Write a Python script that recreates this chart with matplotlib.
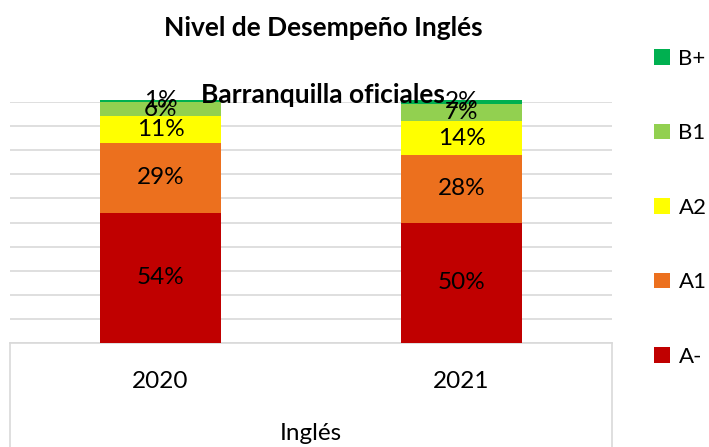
import matplotlib
matplotlib.use("Agg")
import matplotlib.pyplot as plt
from matplotlib.lines import Line2D
from matplotlib.patches import Patch
import numpy as np

plt.rcParams['font.family'] = ['Lato', 'DejaVu Sans']

years = ["2020", "2021"]
levels = ["A-", "A1", "A2", "B1", "B+"]
values = {
    "A-": [54, 50],
    "A1": [29, 28],
    "A2": [11, 14],
    "B1": [6, 7],
    "B+": [1, 2],
}
colors = {"A-": "#C00000", "A1": "#EC701E", "A2": "#FFFF00", "B1": "#92D050", "B+": "#00B050"}

W, H = 709, 447
fig = plt.figure(figsize=(W / 100, H / 100), dpi=100)
ax = fig.add_axes([10 / W, (H - 343) / H, (612 - 10) / W, (343 - 102) / H])

x = np.arange(len(years))
bottom = np.zeros(len(years))
for lvl in levels:
    v = np.array(values[lvl], dtype=float)
    ax.bar(x, v, bottom=bottom, width=0.4, color=colors[lvl], zorder=3, clip_on=False)
    for xi, b, vi in zip(x, bottom, v):
        ax.text(xi, b + vi / 2, f"{int(vi)}%", ha="center", va="center",
                fontsize=17.5, color="black", zorder=5)
    bottom += v

ax.set_xlim(-0.5, 1.5)
ax.set_ylim(0, 100)
ax.set_yticks(np.arange(0, 101, 10))
ax.yaxis.grid(True, color="#d9d9d9", linewidth=1.2, zorder=0)
ax.set_yticklabels([])
ax.tick_params(axis="y", length=0)
ax.tick_params(axis="x", length=0, labelsize=17.5, pad=20)
ax.set_xticks(x)
ax.set_xticklabels(years)
for s in ["top", "left", "right"]:
    ax.spines[s].set_visible(False)
ax.spines["bottom"].set_color("#d9d9d9")
ax.spines["bottom"].set_linewidth(1.2)

# category box below axis
for xp in [10, 612]:
    fig.add_artist(Line2D([xp / W, xp / W], [0, (H - 343) / H], transform=fig.transFigure,
                          color="#d9d9d9", linewidth=1.2))

fig.text(311 / W, 1 - 433 / H, "Inglés", ha="center", va="center", fontsize=17.5)
fig.text(323 / W, 1 - 28 / H, "Nivel de Desempeño Inglés", ha="center", va="center",
         fontsize=19, fontweight="bold")
fig.text(323 / W, 1 - 95 / H, "Barranquilla oficiales", ha="center", va="center",
         fontsize=19, fontweight="bold", zorder=10)

handles = [Patch(facecolor=colors[l], edgecolor="none") for l in levels[::-1]]
fig.legend(handles, levels[::-1], loc="upper left", bbox_to_anchor=(654 / W, 1 - 49 / H),
           frameon=False, fontsize=16, handlelength=0.7, handleheight=0.7,
           handletextpad=0.4, labelspacing=2.45, borderpad=0, borderaxespad=0)

fig.savefig("out.png", dpi=100)
